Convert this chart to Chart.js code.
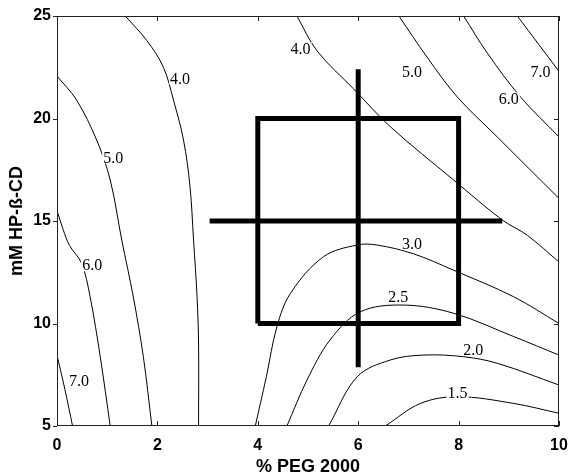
<!DOCTYPE html>
<html>
<head>
<meta charset="utf-8">
<title>Contour plot</title>
<script src="https://cdn.jsdelivr.net/npm/chart.js@4.4.1/dist/chart.umd.min.js"></script>
<style>
  html, body { margin: 0; padding: 0; background: #fff; }
  #plot { display: block; }
</style>
</head>
<body>
<canvas id="plot" width="571" height="475"></canvas>
<script>
  "use strict";

  // axis ranges and tick steps
  var xTicks = [0, 2, 4, 6, 8, 10];
  var yTicks = [5, 10, 15, 20, 25];

  // contour lines as [PEG %, mM CD]
  var c70a = [[0, 8.45], [0.16, 6.76], [0.31, 5]];
  var c60a = [[0, 15.5], [0.12, 14.6], [0.25, 13.8], [0.49, 12.94], [0.66, 11.3], [0.86, 8.4], [1.06, 5]];
  var c50a = [[0, 22.07], [0.39, 20.9], [0.79, 18.95], [1.06, 17.0], [1.29, 14.07], [1.52, 11.3], [1.72, 8.38], [1.89, 5]];
  var c40a = [[1.36, 25], [1.79, 23.8], [2.12, 22.5], [2.32, 20.9], [2.52, 18.95], [2.65, 16.67], [2.72, 14.07], [2.79, 11.3], [2.82, 9.0], [2.82, 5]];
  var c40b = [[4.78, 25], [5.18, 23.3], [5.91, 21.44], [6.64, 19.6], [7.9, 17.0], [8.87, 15.05], [9.37, 14.3], [10, 13.0]];
  var c50b = [[6.81, 25], [7.37, 23.0], [7.97, 21.06], [8.77, 19.1], [10, 16.1]];
  var c60b = [[8.1, 25], [8.57, 23.2], [9.23, 21.06], [10, 19.1]];
  var c70b = [[9.17, 25], [9.6, 23.6], [10, 22.3]];
  var c30 = [[3.95, 5], [4.17, 7.4], [4.38, 9.84], [4.65, 11.47], [5.31, 13.26], [5.98, 13.83], [6.37, 13.83], [7.1, 13.4], [7.9, 12.6], [9.1, 11.3], [10, 10.0]];
  var c25 = [[4.58, 5], [4.98, 7.24], [5.44, 9.2], [6.04, 10.57], [6.9, 10.9], [7.9, 10.5], [9.1, 9.36], [10, 8.46]];
  var c20 = [[5.41, 5], [5.98, 7.4], [6.64, 8.22], [7.3, 8.46], [8.1, 8.38], [8.77, 8.06], [10, 7.0]];
  var c15 = [[6.54, 5], [7.24, 6.1], [7.97, 6.43], [9.1, 6.1], [10, 5.62]];

  // design space drawn over the contours
  var box = [[4, 10], [8, 10], [8, 20], [4, 20], [4, 10]];
  var crossH = [[3.04, 15], [8.87, 15]];
  var crossV = [[6, 7.86], [6, 22.4]];

  // contour level labels [x, y, text]
  var levelLabels = [
    [0.44, 7.2, "7.0"], [0.70, 12.85, "6.0"], [1.12, 18.1, "5.0"], [2.45, 21.96, "4.0"],
    [4.85, 23.42, "4.0"], [7.07, 22.28, "5.0"], [9.0, 20.98, "6.0"], [9.63, 22.28, "7.0"],
    [7.07, 13.88, "3.0"], [6.8, 11.28, "2.5"], [8.29, 8.74, "2.0"], [7.98, 6.64, "1.5"]
  ];

  var toXY = function(arr) {
    return arr.map(function(p) { return {x: p[0], y: p[1]}; });
  };

  var thin = function(arr) {
    return { data: toXY(arr), borderColor: "#000", borderWidth: 1, tension: 0.35 };
  };

  var thick = function(arr) {
    return { data: toXY(arr), borderColor: "#000", borderWidth: 5, tension: 0,
             borderJoinStyle: "miter", borderCapStyle: "butt" };
  };

  // frame, tick marks and level labels
  var framePlugin = {
    id: "frame",
    afterDatasetsDraw: function(chart) {
      var ctx = chart.ctx;
      var xs = chart.scales.x, ys = chart.scales.y;
      ctx.save();
      ctx.font = "16px 'Liberation Serif', 'DejaVu Serif', serif";
      ctx.textAlign = "center";
      ctx.textBaseline = "middle";
      levelLabels.forEach(function(l) {
        var px = xs.getPixelForValue(l[0]), py = ys.getPixelForValue(l[1]);
        var w = ctx.measureText(l[2]).width;
        ctx.fillStyle = "#fff";
        ctx.fillRect(px - w / 2 - 1, py - 6, w + 2, 12);
        ctx.fillStyle = "#000";
        ctx.fillText(l[2], px, py + 1);
      });
      ctx.restore();
    },
    afterDraw: function(chart) {
      var ctx = chart.ctx, a = chart.chartArea;
      var xs = chart.scales.x, ys = chart.scales.y;
      ctx.save();
      ctx.strokeStyle = "#222";
      ctx.lineWidth = 1;
      ctx.strokeRect(a.left + 0.5, a.top + 0.5, a.right - a.left - 1, a.bottom - a.top - 1);
      ctx.beginPath();
      xTicks.forEach(function(v) {
        var px = Math.round(xs.getPixelForValue(v)) + 0.5;
        ctx.moveTo(px, a.bottom); ctx.lineTo(px, a.bottom - 5);
        ctx.moveTo(px, a.top); ctx.lineTo(px, a.top + 5);
      });
      yTicks.forEach(function(v) {
        var py = Math.round(ys.getPixelForValue(v)) + 0.5;
        ctx.moveTo(a.left, py); ctx.lineTo(a.left - 4, py);
        ctx.moveTo(a.right, py); ctx.lineTo(a.right - 5, py);
      });
      ctx.stroke();
      ctx.restore();
    }
  };

  var tickFont = { family: "'Liberation Sans', Arial, sans-serif", size: 16, weight: "bold" };
  var titleFont = { family: "'Liberation Sans', Arial, sans-serif", size: 18, weight: "bold", lineHeight: 0.9 };

  new Chart("plot", {
    type: "scatter",
    data: {
      datasets: [
        thin(c70a), thin(c60a), thin(c50a), thin(c40a),
        thin(c40b), thin(c50b), thin(c60b), thin(c70b),
        thin(c30), thin(c25), thin(c20), thin(c15),
        thick(box), thick(crossH), thick(crossV)
      ]
    },
    options: {
      responsive: false,
      animation: false,
      showLine: true,
      layout: { padding: { top: 16, right: 12, left: 0, bottom: 0 } },
      elements: { point: { radius: 0, hoverRadius: 0 } },
      plugins: {
        legend: false,
        tooltip: false
      },
      scales: {
        x: {
          type: "linear",
          min: 0,
          max: 10,
          afterFit: function(s) { s.height = 49; s.paddingLeft = 0; s.paddingRight = 0; },
          afterBuildTicks: function(s) { s.ticks = xTicks.map(function(v) { return {value: v}; }); },
          grid: { display: false, drawTicks: false },
          border: { display: false },
          ticks: { color: "#000", font: tickFont, padding: 10, maxRotation: 0 },
          title: { display: true, text: "% PEG 2000", color: "#000", font: titleFont, padding: { top: 0, bottom: 0 } }
        },
        y: {
          type: "linear",
          min: 5,
          max: 25,
          afterFit: function(s) { s.width = 57; s.paddingTop = 0; s.paddingBottom = 0; },
          afterBuildTicks: function(s) { s.ticks = yTicks.map(function(v) { return {value: v}; }); },
          grid: { display: false, drawTicks: false },
          border: { display: false },
          ticks: { color: "#000", font: tickFont, padding: 6 },
          title: { display: true, text: "mM HP-ß-CD", color: "#000", font: titleFont, padding: { top: 9, bottom: 0 } }
        }
      }
    },
    plugins: [framePlugin]
  });
</script>
</body>
</html>
